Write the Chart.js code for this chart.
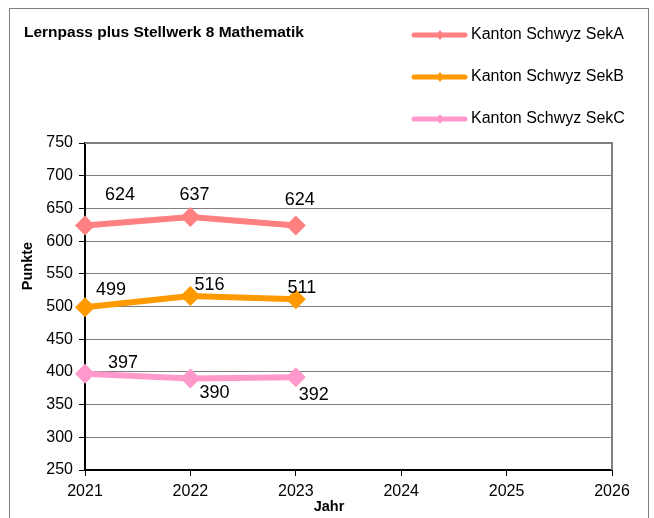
<!DOCTYPE html>
<html>
<head>
<meta charset="utf-8">
<script src="https://cdn.jsdelivr.net/npm/chart.js@4/dist/chart.umd.min.js"></script>
<style>
  html, body { margin: 0; padding: 0; background: #fff; }
  canvas { display: block; }
</style>
</head>
<body>
<canvas id="chart" width="654" height="518"></canvas>
<script>
// Daten
const jahre = [2021, 2022, 2023]
const sekA = [624, 637, 624]
const sekB = [499, 516, 511]
const sekC = [397, 390, 392]
const serien = ['Kanton Schwyz SekA', 'Kanton Schwyz SekB', 'Kanton Schwyz SekC']
const farben = ['#FF8080', '#FF9900', '#FF99CC']

// Verschiebung der Wertbeschriftungen (px) je Punkt
const labelOffsets = [
  [[35, -30], [4, -22], [4, -25]],
  [[26, -17], [19, -11], [6, -11]],
  [[38, -11], [24, 15], [18, 18]],
]

const FONT = '"Liberation Sans", Arial, sans-serif'

const toPoints = (werte) => werte.map((v, i) => ({ x: jahre[i], y: v }))

const dekor = {
  id: 'dekor',
  beforeDraw: (chart) => {
    const { ctx } = chart
    ctx.save()
    ctx.fillStyle = '#fff'
    ctx.fillRect(0, 0, chart.width, chart.height)
    ctx.strokeStyle = '#808080'
    ctx.lineWidth = 1
    ctx.strokeRect(9.5, 8.5, 639, 530)
    ctx.restore()
  },
  afterDatasetsDraw: (chart) => {
    const { ctx, chartArea } = chart
    ctx.save()
    // Rahmen oben / rechts
    ctx.strokeStyle = '#808080'
    ctx.lineWidth = 2
    ctx.beginPath()
    ctx.moveTo(chartArea.left, chartArea.top)
    ctx.lineTo(chartArea.right, chartArea.top)
    ctx.lineTo(chartArea.right, chartArea.bottom)
    ctx.stroke()

    // Wertbeschriftungen
    ctx.fillStyle = '#000'
    ctx.font = '18px ' + FONT
    ctx.textAlign = 'center'
    ctx.textBaseline = 'middle'
    chart.data.datasets.forEach((ds, d) => {
      chart.getDatasetMeta(d).data.forEach((pt, i) => {
        const [dx, dy] = labelOffsets[d][i]
        ctx.fillText(String(ds.data[i].y), pt.x + dx, pt.y + dy)
      })
    })

    // Titel
    ctx.font = 'bold 15.5px ' + FONT
    ctx.textAlign = 'left'
    ctx.fillText('Lernpass plus Stellwerk 8 Mathematik', 24, 33)

    // Achsentitel
    ctx.font = 'bold 14.5px ' + FONT
    ctx.textAlign = 'center'
    ctx.fillText('Jahr', 329, 507)
    ctx.save()
    ctx.translate(28, 266)
    ctx.rotate(-Math.PI / 2)
    ctx.fillText('Punkte', 0, 0)
    ctx.restore()

    // Legende
    chart.data.datasets.forEach((ds, d) => {
      const y = 35 + d * 42
      ctx.strokeStyle = ds.borderColor
      ctx.lineWidth = 5
      ctx.lineCap = 'round'
      ctx.beginPath()
      ctx.moveTo(414, y)
      ctx.lineTo(465, y)
      ctx.stroke()
      ctx.fillStyle = ds.borderColor
      ctx.beginPath()
      ctx.moveTo(440, y - 5); ctx.lineTo(444, y); ctx.lineTo(440, y + 5); ctx.lineTo(436, y)
      ctx.closePath()
      ctx.fill()
      ctx.fillStyle = '#000'
      ctx.font = '16px ' + FONT
      ctx.textAlign = 'left'
      ctx.fillText(ds.label, 471, y)
    })
    ctx.restore()
  },
}

const datasets = [sekA, sekB, sekC].map((werte, i) => ({
  label: serien[i],
  data: toPoints(werte),
  borderColor: farben[i],
  backgroundColor: farben[i],
  borderWidth: 6,
  pointStyle: 'rectRot',
  pointRadius: 10,
  pointHoverRadius: 10,
  pointBorderWidth: 0,
  tension: 0,
  clip: false,
}))

new Chart(document.getElementById('chart'), {
  type: 'line',
  data: { datasets },
  options: {
    responsive: false,
    animation: false,
    layout: { padding: { top: 143, right: 42, left: 0, bottom: 0 } },
    plugins: {
      legend: { display: false },
      title: { display: false },
      tooltip: { enabled: false },
    },
    scales: {
      x: {
        type: 'linear',
        min: 2021,
        max: 2026,
        ticks: {
          stepSize: 1,
          color: '#000',
          font: { size: 16, family: FONT },
          padding: 6,
          callback: (v) => String(v),
        },
        grid: { drawOnChartArea: false, tickLength: 6, color: '#000' },
        border: { color: '#000', width: 2 },
        afterFit: (scale) => { scale.height = 48 },
      },
      y: {
        min: 250,
        max: 750,
        ticks: {
          stepSize: 50,
          color: '#000',
          font: { size: 16, family: FONT },
          padding: 6,
        },
        grid: { color: '#808080', tickColor: '#000', tickLength: 6, lineWidth: 1 },
        border: { color: '#000', width: 2 },
        afterFit: (scale) => { scale.width = 85 },
      },
    },
  },
  plugins: [dekor],
})
</script>
</body>
</html>
